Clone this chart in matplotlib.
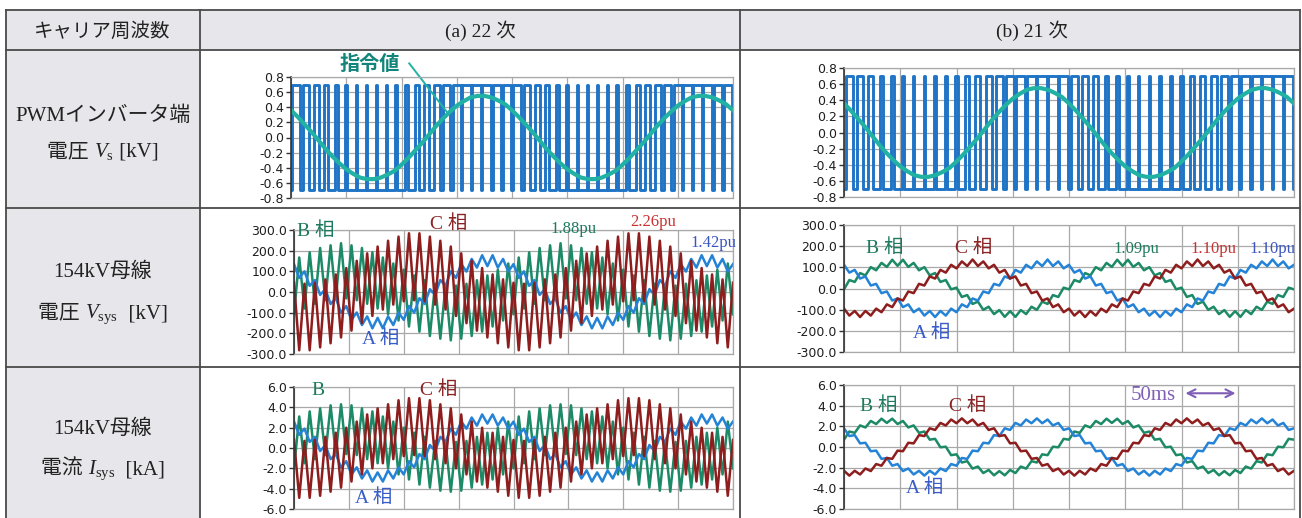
import numpy as np
import matplotlib
matplotlib.use("Agg")
import matplotlib.pyplot as plt
from matplotlib.patches import Rectangle
from matplotlib.ticker import FuncFormatter

# ---- data (x axis: 8 grid columns) ----
# PWM duty per carrier period, (a) 22 carrier / (b) 21 carrier
pwm_a_duty = [0.71, 0.61, 0.50, 0.39, 0.28, 0.20, 0.14, 0.11, 0.11, 0.14, 0.20, 0.29, 0.39, 0.50, 0.61, 0.72, 0.80, 0.86, 0.89, 0.89, 0.86, 0.80,
              0.71, 0.61, 0.50, 0.39, 0.28, 0.20, 0.14, 0.11, 0.11, 0.14, 0.20, 0.29, 0.39, 0.50, 0.61, 0.72, 0.80, 0.86, 0.89, 0.89, 0.86, 0.80]
pwm_b_duty = [0.71, 0.60, 0.48, 0.37, 0.26, 0.18, 0.13, 0.10, 0.12, 0.17, 0.24, 0.34, 0.46, 0.57, 0.69, 0.78, 0.85, 0.89, 0.89, 0.86, 0.80,
              0.71, 0.60, 0.48, 0.37, 0.26, 0.18, 0.13, 0.10, 0.12, 0.17, 0.24, 0.34, 0.46, 0.57, 0.69, 0.78, 0.85, 0.89, 0.89, 0.86, 0.80]
pwm_level = 0.7

# reference (指令値), sampled every 1/8 column
ref_vals = [0.36, 0.27, 0.17, 0.07, -0.04, -0.15, -0.25, -0.34, -0.42, -0.48, -0.53, -0.55, -0.55, -0.53, -0.49, -0.44,
            -0.36, -0.27, -0.17, -0.07, 0.04, 0.15, 0.25, 0.34, 0.42, 0.48, 0.53, 0.55, 0.55, 0.53, 0.49, 0.44,
            0.36, 0.27, 0.17, 0.07, -0.04, -0.15, -0.25, -0.34, -0.42, -0.48, -0.53, -0.55, -0.55, -0.53, -0.49, -0.44,
            -0.36, -0.27, -0.17, -0.07, 0.04, 0.15, 0.25, 0.34, 0.42, 0.48, 0.53, 0.55, 0.55, 0.53, 0.49, 0.44, 0.36]

# bus voltage (kV), successive peaks/troughs
a_vA = [135, 68, 100, 30, 58, -14, 14, -58, -30, -100, -68, -135, -99, -160, -118, -176, -125, -176, -118, -160, -99,
        -135, -68, -100, -30, -58, 14, -14, 58, 30, 100, 68, 135, 99, 160, 118, 178, 125, 178, 118, 160, 99,
        135, 68, 100, 30, 58, -14, 14, -58, -30, -100, -68, -135, -99, -160, -118, -176, -125, -176, -118, -160, -99,
        -135, -68, -100, -30, -58, 14, -14, 58, 30, 100, 68, 135, 99, 160, 118, 178, 125, 178, 118, 160, 99, 135]
a_vB = [-108, 167, -80, 192, -57, 213, -40, 226, -31, 236, -31, 226, -40, 213, -57, 192, -80, 167, -108, 138, -138,
        108, -167, 80, -192, 57, -213, 40, -226, 31, -234, 31, -226, 40, -213, 57, -192, 80, -167, 108, -138, 138,
        -108, 167, -80, 192, -57, 213, -40, 226, -31, 236, -31, 226, -40, 213, -57, 192, -80, 167, -108, 138, -138,
        108, -167, 80, -192, 57, -213, 40, -226, 31, -234, 31, -226, 40, -213, 57, -192, 80, -167, 108, -138, 138, -108]
a_vC = [45, -282, 40, -282, 45, -268, 61, -248, 85, -220, 116, -187, 151, -151, 187, -116, 220, -85, 248, -61, 268,
        -45, 284, -40, 284, -45, 268, -61, 248, -85, 220, -116, 187, -151, 151, -187, 116, -220, 85, -248, 61, -268,
        45, -282, 40, -282, 45, -268, 61, -248, 85, -220, 116, -187, 151, -151, 187, -116, 220, -85, 248, -61, 268,
        -45, 284, -40, 284, -45, 268, -61, 248, -85, 220, -116, 187, -151, 151, -187, 116, -220, 85, -248, 61, -268, 45]
b_vA = [112, 75, 88, 47, 57, 14, 22, -22, -14, -57, -47, -88, -75, -112, -95, -128, -106, -135, -106, -128, -95,
        -112, -75, -88, -47, -57, -14, -22, 22, 14, 57, 47, 88, 75, 112, 95, 128, 106, 137, 106, 128, 95,
        112, 75, 88, 47, 57, 14, 22, -22, -14, -57, -47, -88, -75, -112, -95, -128, -106, -135, -106, -128, -95,
        -112, -75, -88, -47, -57, -14, -22, 22, 14, 57, 47, 88, 75, 112, 95, 128, 106, 137, 106, 128, 95, 112]
b_vB = [-4, 40, 31, 73, 62, 101, 86, 121, 102, 136, 107, 136, 102, 121, 86, 101, 62, 73, 31, 40, -4,
        4, -40, -31, -73, -62, -101, -86, -121, -102, -134, -107, -134, -102, -121, -86, -101, -62, -73, -31, -40, 4,
        -4, 40, 31, 73, 62, 101, 86, 121, 102, 136, 107, 136, 102, 121, 86, 101, 62, 73, 31, 40, -4,
        4, -40, -31, -73, -62, -101, -86, -121, -102, -134, -107, -134, -102, -121, -86, -101, -62, -73, -31, -40, 4, -4]
b_vC = [-95, -128, -106, -135, -106, -128, -95, -112, -75, -88, -47, -57, -14, -22, 22, 14, 57, 47, 88, 75, 112,
        95, 128, 106, 137, 106, 128, 95, 112, 75, 88, 47, 57, 14, 22, -22, -14, -57, -47, -88, -75, -112,
        -95, -128, -106, -135, -106, -128, -95, -112, -75, -88, -47, -57, -14, -22, 22, 14, 57, 47, 88, 75, 112,
        95, 128, 106, 137, 106, 128, 95, 112, 75, 88, 47, 57, 14, 22, -22, -14, -57, -47, -88, -75, -112, -95]

# bus current (kA), successive peaks/troughs
a_iA = [2.6, 1.3, 1.9, 0.6, 1.1, -0.3, 0.3, -1.1, -0.6, -1.9, -1.3, -2.6, -1.9, -3.0, -2.2, -3.3, -2.4, -3.3, -2.2, -3.0, -1.9,
        -2.6, -1.3, -1.9, -0.6, -1.1, 0.3, -0.3, 1.1, 0.6, 1.9, 1.3, 2.6, 1.9, 3.0, 2.2, 3.3, 2.4, 3.3, 2.2, 3.0, 1.9,
        2.6, 1.3, 1.9, 0.6, 1.1, -0.3, 0.3, -1.1, -0.6, -1.9, -1.3, -2.6, -1.9, -3.0, -2.2, -3.3, -2.4, -3.3, -2.2, -3.0, -1.9,
        -2.6, -1.3, -1.9, -0.6, -1.1, 0.3, -0.3, 1.1, 0.6, 1.9, 1.3, 2.6, 1.9, 3.0, 2.2, 3.3, 2.4, 3.3, 2.2, 3.0, 1.9, 2.6]
a_iB = [-2.0, 3.1, -1.5, 3.6, -1.1, 3.9, -0.7, 4.2, -0.6, 4.3, -0.6, 4.2, -0.7, 3.9, -1.1, 3.6, -1.5, 3.1, -2.0, 2.6, -2.6,
        2.0, -3.1, 1.5, -3.6, 1.1, -3.9, 0.7, -4.2, 0.6, -4.3, 0.6, -4.2, 0.7, -3.9, 1.1, -3.6, 1.5, -3.1, 2.0, -2.6, 2.6,
        -2.0, 3.1, -1.5, 3.6, -1.1, 3.9, -0.7, 4.2, -0.6, 4.3, -0.6, 4.2, -0.7, 3.9, -1.1, 3.6, -1.5, 3.1, -2.0, 2.6, -2.6,
        2.0, -3.1, 1.5, -3.6, 1.1, -3.9, 0.7, -4.2, 0.6, -4.3, 0.6, -4.2, 0.7, -3.9, 1.1, -3.6, 1.5, -3.1, 2.0, -2.6, 2.6, -2.0]
a_iC = [0.8, -4.9, 0.7, -4.9, 0.8, -4.7, 1.1, -4.3, 1.5, -3.9, 2.0, -3.3, 2.6, -2.6, 3.3, -2.0, 3.9, -1.5, 4.3, -1.1, 4.7,
        -0.8, 4.9, -0.7, 4.9, -0.8, 4.7, -1.1, 4.3, -1.5, 3.9, -2.0, 3.3, -2.6, 2.6, -3.3, 2.0, -3.9, 1.5, -4.3, 1.1, -4.7,
        0.8, -4.9, 0.7, -4.9, 0.8, -4.7, 1.1, -4.3, 1.5, -3.9, 2.0, -3.3, 2.6, -2.6, 3.3, -2.0, 3.9, -1.5, 4.3, -1.1, 4.7,
        -0.8, 4.9, -0.7, 4.9, -0.8, 4.7, -1.1, 4.3, -1.5, 3.9, -2.0, 3.3, -2.6, 2.6, -3.3, 2.0, -3.9, 1.5, -4.3, 1.1, -4.7, 0.8]
b_iA = [1.81, 1.06, 1.15, 0.35, 0.41, -0.41, -0.35, -1.15, -1.06, -1.81, -1.65, -2.33, -2.08, -2.66, -2.30, -2.77, -2.30, -2.66, -2.08, -2.33, -1.65,
        -1.81, -1.06, -1.15, -0.35, -0.41, 0.41, 0.35, 1.15, 1.06, 1.81, 1.65, 2.33, 2.08, 2.66, 2.30, 2.77, 2.30, 2.66, 2.08, 2.33, 1.65,
        1.81, 1.06, 1.15, 0.35, 0.41, -0.41, -0.35, -1.15, -1.06, -1.81, -1.65, -2.33, -2.08, -2.66, -2.30, -2.77, -2.30, -2.66, -2.08, -2.33, -1.65,
        -1.81, -1.06, -1.15, -0.35, -0.41, 0.41, 0.35, 1.15, 1.06, 1.81, 1.65, 2.33, 2.08, 2.66, 2.30, 2.77, 2.30, 2.66, 2.08, 2.33, 1.65, 1.81]
b_iB = [0.71, 1.50, 1.37, 2.09, 1.89, 2.52, 2.22, 2.74, 2.33, 2.74, 2.22, 2.52, 1.89, 2.09, 1.37, 1.50, 0.71, 0.79, -0.03, 0.03, -0.79,
        -0.71, -1.50, -1.37, -2.09, -1.89, -2.52, -2.22, -2.74, -2.33, -2.74, -2.22, -2.52, -1.89, -2.09, -1.37, -1.50, -0.71, -0.79, 0.03, -0.03, 0.79,
        0.71, 1.50, 1.37, 2.09, 1.89, 2.52, 2.22, 2.74, 2.33, 2.74, 2.22, 2.52, 1.89, 2.09, 1.37, 1.50, 0.71, 0.79, -0.03, 0.03, -0.79,
        -0.71, -1.50, -1.37, -2.09, -1.89, -2.52, -2.22, -2.74, -2.33, -2.74, -2.22, -2.52, -1.89, -2.09, -1.37, -1.50, -0.71, -0.79, 0.03, -0.03, 0.79, 0.71]
b_iC = [-2.30, -2.77, -2.30, -2.66, -2.08, -2.33, -1.65, -1.81, -1.06, -1.15, -0.35, -0.41, 0.41, 0.35, 1.15, 1.06, 1.81, 1.65, 2.33, 2.08, 2.66,
        2.30, 2.77, 2.30, 2.66, 2.08, 2.33, 1.65, 1.81, 1.06, 1.15, 0.35, 0.41, -0.41, -0.35, -1.15, -1.06, -1.81, -1.65, -2.33, -2.08, -2.66,
        -2.30, -2.77, -2.30, -2.66, -2.08, -2.33, -1.65, -1.81, -1.06, -1.15, -0.35, -0.41, 0.41, 0.35, 1.15, 1.06, 1.81, 1.65, 2.33, 2.08, 2.66,
        2.30, 2.77, 2.30, 2.66, 2.08, 2.33, 1.65, 1.81, 1.06, 1.15, 0.35, 0.41, -0.41, -0.35, -1.15, -1.06, -1.81, -1.65, -2.33, -2.08, -2.66, -2.30]

header_texts = ["キャリア周波数", "(a) 22 次", "(b) 21 次"]
a_pu = ["1.88pu", "2.26pu", "1.42pu"]
b_pu = ["1.09pu", "1.10pu", "1.10pu"]

# ---- styles ----
W, H = 1302, 518
JP = ['Liberation Serif', 'Noto Sans CJK JP']
CELL = '#e7e7eb'
LINE = '#4a4a4a'
C_PWM, C_REF, C_REFTXT = '#1f74c6', '#22b2a4', '#12857a'
C_A, C_B, C_C = '#2483d6', '#1c8a66', '#8e1d1d'
T_A, T_B, T_C = '#3a5cc8', '#1d7a5e', '#8b2323'
T_RED, T_BLUE = '#c83232', '#3a55c0'
C_50 = '#7e5fb5'

plt.rcParams['mathtext.fontset'] = 'custom'
plt.rcParams['mathtext.rm'] = 'Liberation Serif'
plt.rcParams['mathtext.it'] = 'Liberation Serif:italic'

fig = plt.figure(figsize=(W / 100, H / 100), dpi=100)
bg = fig.add_axes([0, 0, 1, 1])
bg.set_xlim(0, W)
bg.set_ylim(H, 0)
bg.axis('off')

# table
bg.add_patch(Rectangle((6, 10), 1294, 40, fc=CELL, ec='none'))
bg.add_patch(Rectangle((6, 50), 194, 470, fc=CELL, ec='none'))
for y in [10, 50, 208, 367]:
    bg.plot([6, 1300], [y, y], color=LINE, lw=1.3)
for x in [6, 200, 740, 1300]:
    bg.plot([x, x], [10, 520], color=LINE, lw=1.3)

bg.text(102, 31, header_texts[0], family=JP, fontsize=14, color='#222', ha='center', va='center')
bg.text(480, 31, header_texts[1], family=JP, fontsize=14, color='#222', ha='center', va='center')
bg.text(1032, 31, header_texts[2], family=JP, fontsize=14, color='#222', ha='center', va='center')

renderer = fig.canvas.get_renderer()


def rich(xc, yb, parts, size=15):
    # pieces on one baseline, centred on xc
    items = []
    cur = 0.0
    for s in parts:
        t = bg.text(cur, yb, s, family=JP, fontsize=size, color='#222', ha='left', va='baseline')
        items.append((t, cur))
        cur += t.get_window_extent(renderer).width
    x0 = xc - cur / 2
    for t, off in items:
        t.set_x(x0 + off)


rich(103, 121, ["PWMインバータ端"])
rich(103, 157, ["電圧 ", r"$V_{\mathrm{s}}$", " [kV]"])
rich(103, 277, ["154kV母線"])
rich(103, 318, ["電圧 ", r"$V_{\mathrm{sys}}$", "  [kV]"])
rich(103, 434, ["154kV母線"])
rich(103, 474, ["電流 ", r"$I_{\mathrm{sys}}$", "  [kA]"])


def tick_fmt(v, pos):
    return "%.1f" % (round(v, 6) + 0.0)


def make_ax(x0, x1, y0, y1, lim, step):
    ax = fig.add_axes([x0 / W, 1 - y1 / H, (x1 - x0) / W, (y1 - y0) / H])
    ax.set_facecolor('white')
    ax.set_xlim(0, 8)
    ax.set_ylim(-lim, lim)
    ax.set_xticks(np.arange(0, 9))
    ax.set_yticks(np.arange(-lim, lim + step / 2, step))
    ax.grid(True, color='#a9a9a9', lw=0.9)
    ax.set_axisbelow(True)
    ax.tick_params(axis='x', length=0, labelbottom=False)
    ax.tick_params(axis='y', length=3.5, width=1.0, color='#333', labelsize=9,
                   labelcolor='#1e1e1e', pad=1.5)
    for s in ['top', 'right', 'bottom']:
        ax.spines[s].set_color('#a9a9a9')
        ax.spines[s].set_linewidth(0.9)
    ax.spines['left'].set_color('#333')
    ax.spines['left'].set_linewidth(1.2)
    ax.yaxis.set_major_formatter(FuncFormatter(tick_fmt))
    return ax


def pwm_xy(duty, span=8.0):
    T = span / len(duty)
    xs, ys = [], []
    for i, d in enumerate(duty):
        x0 = i * T
        r = x0 + (1 - d) * T / 2
        f = x0 + (1 + d) * T / 2
        xs += [x0, r, r, f, f]
        ys += [-pwm_level, -pwm_level, pwm_level, pwm_level, -pwm_level]
    xs.append(span)
    ys.append(-pwm_level)
    return xs, ys


def phases(ax, A, B, C, lw=1.8):
    for vals, col in [(B, C_B), (A, C_A), (C, C_C)]:
        ax.plot(np.linspace(0, 8, len(vals)), vals, color=col, lw=lw)


# row 1: PWM
for (x0, x1, y0, y1), duty in [((291, 733, 77, 198), pwm_a_duty), ((844, 1294, 68, 197), pwm_b_duty)]:
    ax = make_ax(x0, x1, y0, y1, 0.8, 0.2)
    px, py = pwm_xy(duty)
    ax.plot(px, py, color=C_PWM, lw=2.1)
    ax.plot(np.linspace(0, 8, len(ref_vals)), ref_vals, color=C_REF, lw=3.0)
    if duty is pwm_a_duty:
        ax.text(1.42, 0.98, "指令値", family='Noto Sans CJK JP', weight='bold', fontsize=14.5,
                color=C_REFTXT, ha='center', va='center', clip_on=False)
        ax.plot([2.14, 2.83], [0.98, 0.33], color=C_REF, lw=1.4, clip_on=False)

lab = dict(family=JP, ha='center', va='center', clip_on=False)
PH = 14
PU = 12

# row 2: bus voltage
ax = make_ax(294, 733, 230, 354, 300, 100)
phases(ax, a_vA, a_vB, a_vC)
ax.text(0.39, 297, "B 相", color=T_B, fontsize=PH, **lab)
ax.text(2.81, 329, "C 相", color=T_C, fontsize=PH, **lab)
ax.text(1.58, -228, "A 相", color=T_A, fontsize=PH, **lab)
ax.text(5.09, 305, a_pu[0], color=T_B, fontsize=PU, **lab)
ax.text(6.54, 340, a_pu[1], color=T_RED, fontsize=PU, **lab)
ax.text(7.64, 236, a_pu[2], color=T_BLUE, fontsize=PU, **lab)

ax = make_ax(844, 1294, 225, 352, 300, 100)
phases(ax, b_vA, b_vB, b_vC)
ax.text(0.73, 190, "B 相", color=T_B, fontsize=PH, **lab)
ax.text(2.31, 190, "C 相", color=T_C, fontsize=PH, **lab)
ax.text(1.56, -209, "A 相", color=T_A, fontsize=PH, **lab)
ax.text(5.19, 186, b_pu[0], color=T_B, fontsize=PU, **lab)
ax.text(6.56, 186, b_pu[1], color=T_RED, fontsize=PU, **lab)
ax.text(7.62, 186, b_pu[2], color=T_BLUE, fontsize=PU, **lab)

# row 3: bus current
ax = make_ax(294, 733, 387, 509, 6, 2)
phases(ax, a_iA, a_iB, a_iC)
ax.text(0.44, 5.62, "B", color=T_B, fontsize=PH, **lab)
ax.text(2.64, 5.68, "C 相", color=T_C, fontsize=PH, **lab)
ax.text(1.45, -4.88, "A 相", color=T_A, fontsize=PH, **lab)

ax = make_ax(844, 1294, 385, 509, 6, 2)
phases(ax, b_iA, b_iB, b_iC)
ax.text(0.61, 3.95, "B 相", color=T_B, fontsize=PH, **lab)
ax.text(2.20, 3.95, "C 相", color=T_C, fontsize=PH, **lab)
ax.text(1.43, -3.94, "A 相", color=T_A, fontsize=PH, **lab)
ax.text(5.49, 4.96, "50ms", color=C_50, fontsize=15, **lab)
ax.annotate('', xy=(6.02, 5.2), xytext=(7.01, 5.2),
            arrowprops=dict(arrowstyle='<->', color=C_50, lw=1.5, mutation_scale=14))

fig.savefig("out.png", dpi=100)
